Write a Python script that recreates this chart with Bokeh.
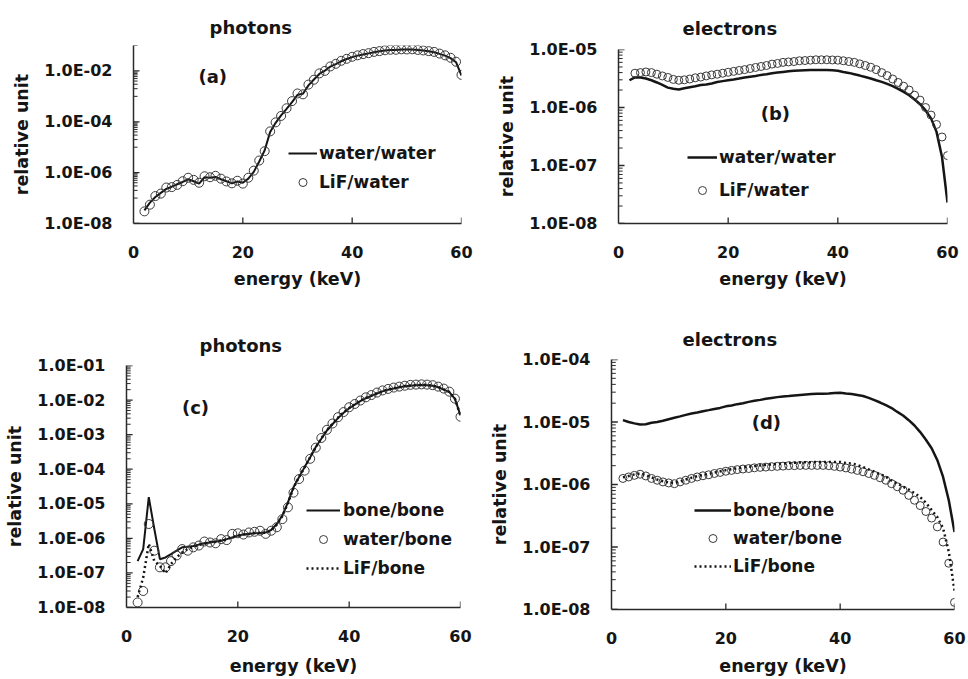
from bokeh.plotting import figure
from bokeh.models import Range1d, FixedTicker, Legend, LegendItem, Label, Title
from bokeh.layouts import column, row
from bokeh.embed import file_html
from bokeh.resources import INLINE

FONT = "DejaVu Sans"

# ---------------- data ----------------
energy = list(range(2, 61))          # keV, 2..60
energy_from3 = list(range(3, 61))    # keV, 3..60

x_ticks = [0, 20, 40, 60]

# panel (a) photons
a_water_water = [3.3e-8, 6.6e-8, 1.1e-7, 1.6e-7, 2.3e-7, 2.8e-7, 3.5e-7, 4.3e-7, 5.5e-7,
                 4.6e-7, 3.7e-7, 6.6e-7, 6.3e-7, 6.8e-7, 5.5e-7, 4.6e-7, 3.8e-7, 4.5e-7, 4.0e-7,
                 5.8e-7, 1.07e-6, 2.75e-6, 7.6e-6, 4.0e-5, 9.1e-5, 1.8e-4, 3.2e-4, 5.9e-4, 1.15e-3,
                 1.26e-3, 2.7e-3, 4.6e-3, 7.6e-3, 1.02e-2, 1.48e-2, 1.86e-2, 2.4e-2, 2.95e-2, 3.5e-2,
                 4.0e-2, 4.4e-2, 4.9e-2, 5.4e-2, 5.9e-2, 6.3e-2, 6.6e-2, 6.6e-2, 6.9e-2, 6.9e-2,
                 6.9e-2, 6.6e-2, 6.3e-2, 5.9e-2, 5.4e-2, 4.7e-2, 4.0e-2, 3.2e-2, 2.2e-2, 6.6e-3]
a_lif_water = [3.0e-8, 5.5e-8, 1.2e-7, 1.5e-7, 2.6e-7, 2.7e-7, 3.3e-7, 4.6e-7, 6.3e-7,
               5.2e-7, 4.0e-7, 7.2e-7, 6.6e-7, 7.5e-7, 5.8e-7, 4.5e-7, 3.8e-7, 4.8e-7, 3.7e-7,
               6.3e-7, 1.2e-6, 3.0e-6, 7.0e-6, 4.2e-5, 9.5e-5, 1.7e-4, 3.4e-4, 6.5e-4, 1.3e-3,
               1.2e-3, 2.9e-3, 4.5e-3, 8.0e-3, 1.0e-2, 1.5e-2, 1.9e-2, 2.5e-2, 3.0e-2, 3.6e-2,
               4.1e-2, 4.6e-2, 5.0e-2, 5.6e-2, 6.0e-2, 6.5e-2, 6.8e-2, 6.8e-2, 7.1e-2, 7.0e-2,
               7.1e-2, 6.7e-2, 6.4e-2, 6.0e-2, 5.6e-2, 4.8e-2, 4.1e-2, 3.3e-2, 2.3e-2, 7.0e-3]
a_y_ticks = [1e-8, 1e-6, 1e-4, 1e-2]
a_y_labels = ["1.0E-08", "1.0E-06", "1.0E-04", "1.0E-02"]

# panel (b) electrons
b_water_water = [2.95e-6, 3.3e-6, 3.3e-6, 3.16e-6, 2.95e-6, 2.7e-6, 2.45e-6, 2.2e-6, 2.1e-6,
                 2.04e-6, 2.15e-6, 2.24e-6, 2.33e-6, 2.45e-6, 2.5e-6, 2.6e-6, 2.75e-6, 2.85e-6, 2.95e-6,
                 3.05e-6, 3.16e-6, 3.3e-6, 3.4e-6, 3.5e-6, 3.65e-6, 3.75e-6, 3.9e-6, 4.0e-6, 4.1e-6,
                 4.2e-6, 4.3e-6, 4.35e-6, 4.4e-6, 4.45e-6, 4.45e-6, 4.45e-6, 4.45e-6, 4.4e-6, 4.3e-6,
                 4.1e-6, 3.95e-6, 3.75e-6, 3.55e-6, 3.35e-6, 3.16e-6, 2.95e-6, 2.77e-6, 2.55e-6, 2.33e-6,
                 2.1e-6, 1.86e-6, 1.63e-6, 1.37e-6, 1.14e-6, 8.9e-7, 6.5e-7, 3.8e-7, 1.4e-7, 2.3e-8]
b_lif_water = [3.9e-6, 4.0e-6, 4.1e-6, 4.0e-6, 3.75e-6, 3.5e-6, 3.3e-6, 3.05e-6,
               2.95e-6, 3.0e-6, 3.1e-6, 3.25e-6, 3.35e-6, 3.5e-6, 3.65e-6, 3.75e-6, 3.9e-6, 4.05e-6,
               4.2e-6, 4.35e-6, 4.5e-6, 4.7e-6, 4.9e-6, 5.1e-6, 5.3e-6, 5.6e-6, 5.75e-6, 6.0e-6,
               6.1e-6, 6.2e-6, 6.4e-6, 6.45e-6, 6.55e-6, 6.65e-6, 6.65e-6, 6.65e-6, 6.6e-6, 6.55e-6,
               6.4e-6, 6.2e-6, 6.0e-6, 5.65e-6, 5.3e-6, 4.95e-6, 4.5e-6, 4.0e-6, 3.55e-6, 3.1e-6,
               2.7e-6, 2.33e-6, 2.0e-6, 1.63e-6, 1.34e-6, 1.0e-6, 7.4e-7, 5.1e-7, 3.1e-7, 1.48e-7]
b_y_ticks = [1e-8, 1e-7, 1e-6, 1e-5]
b_y_labels = ["1.0E-08", "1.0E-07", "1.0E-06", "1.0E-05"]

# panel (c) photons
c_bone_bone = [2.2e-7, 4.9e-7, 1.55e-5, 1.86e-6, 2.5e-7, 2.8e-7, 3.5e-7, 4.4e-7, 5.5e-7,
               5.7e-7, 6.0e-7, 6.6e-7, 7.2e-7, 7.6e-7, 8.1e-7, 8.5e-7, 9.5e-7, 1.07e-6, 1.2e-6,
               1.29e-6, 1.35e-6, 1.4e-6, 1.42e-6, 1.48e-6, 1.74e-6, 2.6e-6, 4.6e-6, 1.1e-5, 3.0e-5,
               5.9e-5, 1.15e-4, 2.2e-4, 4.4e-4, 7.6e-4, 1.32e-3, 2.0e-3, 3.0e-3, 4.3e-3, 5.8e-3,
               7.4e-3, 9.3e-3, 1.13e-2, 1.32e-2, 1.55e-2, 1.78e-2, 2.0e-2, 2.15e-2, 2.35e-2, 2.5e-2,
               2.6e-2, 2.7e-2, 2.75e-2, 2.7e-2, 2.6e-2, 2.35e-2, 2.0e-2, 1.7e-2, 1.08e-2, 3.6e-3]
c_water_bone = [1.4e-8, 3.0e-8, 2.6e-6, 4.4e-7, 1.45e-7, 1.45e-7, 2.2e-7, 3.2e-7, 4.9e-7,
                4.4e-7, 5.5e-7, 6.2e-7, 8.1e-7, 7.6e-7, 7.2e-7, 9.5e-7, 8.9e-7, 1.35e-6, 1.4e-6,
                1.29e-6, 1.48e-6, 1.55e-6, 1.66e-6, 1.35e-6, 1.66e-6, 2.1e-6, 3.6e-6, 7.9e-6, 2.1e-5,
                5.2e-5, 9.1e-5, 2.0e-4, 4.2e-4, 8.0e-4, 1.38e-3, 2.1e-3, 3.2e-3, 4.5e-3, 6.2e-3,
                7.7e-3, 9.7e-3, 1.2e-2, 1.4e-2, 1.65e-2, 1.9e-2, 2.1e-2, 2.3e-2, 2.45e-2, 2.6e-2,
                2.75e-2, 2.8e-2, 2.85e-2, 2.8e-2, 2.7e-2, 2.45e-2, 2.15e-2, 1.75e-2, 1.1e-2, 3.3e-3]
c_lif_bone = [2.0e-8, 7.4e-8, 6.9e-7, 2.2e-7, 1.6e-7, 9.8e-8, 1.8e-7, 2.8e-7, 3.9e-7,
              4.9e-7, 5.7e-7, 6.4e-7, 7.0e-7, 7.8e-7, 7.9e-7, 8.8e-7, 9.2e-7, 1.1e-6, 1.18e-6,
              1.3e-6, 1.33e-6, 1.42e-6, 1.45e-6, 1.46e-6, 1.7e-6, 2.5e-6, 4.4e-6, 1.05e-5, 2.9e-5,
              6.0e-5, 1.12e-4, 2.25e-4, 4.3e-4, 7.8e-4, 1.35e-3, 2.05e-3, 3.1e-3, 4.4e-3, 5.9e-3,
              7.5e-3, 9.5e-3, 1.15e-2, 1.35e-2, 1.58e-2, 1.8e-2, 2.02e-2, 2.2e-2, 2.4e-2, 2.55e-2,
              2.65e-2, 2.72e-2, 2.78e-2, 2.72e-2, 2.62e-2, 2.38e-2, 2.05e-2, 1.72e-2, 1.1e-2, 3.5e-3]
c_y_ticks = [1e-8, 1e-7, 1e-6, 1e-5, 1e-4, 1e-3, 1e-2, 1e-1]
c_y_labels = ["1.0E-08", "1.0E-07", "1.0E-06", "1.0E-05", "1.0E-04", "1.0E-03", "1.0E-02", "1.0E-01"]

# panel (d) electrons
d_bone_bone = [1.07e-5, 1.0e-5, 9.5e-6, 9.1e-6, 9.2e-6, 9.7e-6, 1.0e-5, 1.05e-5, 1.11e-5,
               1.17e-5, 1.23e-5, 1.3e-5, 1.37e-5, 1.42e-5, 1.49e-5, 1.55e-5, 1.62e-5, 1.68e-5, 1.78e-5,
               1.84e-5, 1.93e-5, 2.0e-5, 2.1e-5, 2.18e-5, 2.26e-5, 2.35e-5, 2.43e-5, 2.5e-5, 2.56e-5,
               2.6e-5, 2.65e-5, 2.7e-5, 2.75e-5, 2.8e-5, 2.83e-5, 2.83e-5, 2.85e-5, 2.9e-5, 2.93e-5,
               2.85e-5, 2.8e-5, 2.7e-5, 2.6e-5, 2.43e-5, 2.24e-5, 2.05e-5, 1.86e-5, 1.67e-5, 1.45e-5,
               1.27e-5, 1.07e-5, 8.8e-6, 6.9e-6, 5.2e-6, 3.8e-6, 2.45e-6, 1.32e-6, 5.6e-7, 1.74e-7]
d_water_bone = [1.25e-6, 1.32e-6, 1.4e-6, 1.46e-6, 1.37e-6, 1.25e-6, 1.17e-6, 1.1e-6, 1.06e-6,
                1.03e-6, 1.1e-6, 1.17e-6, 1.25e-6, 1.32e-6, 1.38e-6, 1.43e-6, 1.5e-6, 1.56e-6, 1.63e-6,
                1.68e-6, 1.73e-6, 1.77e-6, 1.8e-6, 1.85e-6, 1.88e-6, 1.9e-6, 1.93e-6, 1.95e-6, 1.97e-6,
                2.0e-6, 2.0e-6, 2.02e-6, 2.02e-6, 2.02e-6, 2.02e-6, 2.02e-6, 2.0e-6, 1.95e-6, 1.9e-6,
                1.84e-6, 1.76e-6, 1.68e-6, 1.6e-6, 1.5e-6, 1.4e-6, 1.28e-6, 1.17e-6, 1.03e-6, 9.2e-7,
                8.1e-7, 6.7e-7, 5.6e-7, 4.6e-7, 3.7e-7, 2.9e-7, 2.1e-7, 1.2e-7, 5.5e-8, 1.3e-8]
d_lif_bone = [1.3e-6, 1.37e-6, 1.45e-6, 1.5e-6, 1.42e-6, 1.3e-6, 1.2e-6, 1.13e-6, 1.08e-6,
              1.06e-6, 1.12e-6, 1.2e-6, 1.28e-6, 1.36e-6, 1.42e-6, 1.48e-6, 1.55e-6, 1.62e-6, 1.7e-6,
              1.76e-6, 1.82e-6, 1.87e-6, 1.92e-6, 1.97e-6, 2.02e-6, 2.06e-6, 2.1e-6, 2.14e-6, 2.17e-6,
              2.2e-6, 2.23e-6, 2.25e-6, 2.27e-6, 2.28e-6, 2.3e-6, 2.3e-6, 2.3e-6, 2.3e-6, 2.3e-6,
              2.2e-6, 2.17e-6, 2.05e-6, 1.9e-6, 1.74e-6, 1.6e-6, 1.46e-6, 1.33e-6, 1.15e-6, 1.04e-6,
              9.2e-7, 8.3e-7, 7.3e-7, 6.3e-7, 5.1e-7, 3.9e-7, 3.0e-7, 2.0e-7, 8.4e-8, 2.0e-8]
d_y_ticks = [1e-8, 1e-7, 1e-6, 1e-5, 1e-4]
d_y_labels = ["1.0E-08", "1.0E-07", "1.0E-06", "1.0E-05", "1.0E-04"]

# ---------------- styling helpers ----------------
INK = "#151515"
AXC = "#2a2a2a"
MAJOR_LEN = 1.1     # inward tick length, in keV (about 6 px)
MINOR_LEN = 0.75    # about 4 px


def minor_list(exps, ks):
    return [k * 10.0 ** e for e in exps for k in ks]


def text_label(p, text, x, y, size):
    p.add_layout(Label(x=x, y=y, text=text, text_align="center", text_baseline="middle",
                       text_font=FONT, text_font_size=size, text_font_style="bold",
                       text_color=INK))


def make_panel(height, y_lo, y_hi, yticks, ylabels, yminor, borders,
               title_text, title_offset, title_standoff, xlab_standoff, xtick_factor):
    p = figure(width=484, height=height, x_range=Range1d(0, 60), y_range=Range1d(y_lo, y_hi),
               y_axis_type="log", output_backend="svg", toolbar_location=None,
               min_border_left=borders[0], min_border_right=borders[1],
               min_border_top=borders[2], min_border_bottom=borders[3])
    p.outline_line_color = None
    p.xgrid.visible = False
    p.ygrid.visible = False
    p.background_fill_color = "white"
    p.border_fill_color = "white"
    p.title = Title(text=title_text, align="left", offset=title_offset, text_font=FONT,
                    text_font_size="18px", text_font_style="bold", text_color=INK,
                    standoff=title_standoff)
    xa = p.xaxis[0]
    ya = p.yaxis[0]
    for ax in (xa, ya):
        ax.axis_line_color = AXC
        ax.axis_line_width = 1.5
        ax.major_tick_in = 0
        ax.major_tick_out = 0
        ax.minor_tick_in = 0
        ax.minor_tick_out = 0
        ax.major_tick_line_color = None
        ax.minor_tick_line_color = None
        ax.major_label_text_font = FONT
        ax.major_label_text_font_size = "16px"
        ax.major_label_text_font_style = "bold"
        ax.major_label_text_color = INK
        ax.axis_label_text_font = FONT
        ax.axis_label_text_font_size = "17.5px"
        ax.axis_label_text_font_style = "bold"
        ax.axis_label_text_color = INK
    xa.ticker = FixedTicker(ticks=x_ticks, minor_ticks=[])
    xa.major_label_standoff = 22
    xa.axis_label = "energy (keV)"
    xa.axis_label_standoff = xlab_standoff
    ya.ticker = FixedTicker(ticks=yticks, minor_ticks=yminor)
    ya.major_label_overrides = dict(zip(yticks, ylabels))
    ya.major_label_standoff = 21
    ya.axis_label = "relative unit"
    ya.axis_label_standoff = 9
    # tick marks drawn inward from the axes
    p.segment(x0=[0] * len(yticks), y0=yticks, x1=[MAJOR_LEN] * len(yticks), y1=yticks,
              line_color=AXC, line_width=1.3)
    p.segment(x0=[0] * len(yminor), y0=yminor, x1=[MINOR_LEN] * len(yminor), y1=yminor,
              line_color=AXC, line_width=1)
    xt = x_ticks[1:]
    p.segment(x0=xt, y0=[y_lo] * len(xt), x1=xt, y1=[y_lo * xtick_factor] * len(xt),
              line_color=AXC, line_width=1.3)
    return p


def add_legend(p, items, loc, glyph_w, spacing, standoff):
    lg = Legend(items=[LegendItem(label=t, renderers=[r]) for t, r in items],
                location=loc, orientation="vertical", padding=0, margin=0,
                spacing=spacing, glyph_width=glyph_w, glyph_height=20, label_height=20,
                label_standoff=standoff, border_line_alpha=0, background_fill_alpha=0,
                label_text_font=FONT, label_text_font_size="17px",
                label_text_font_style="bold", label_text_color=INK)
    p.add_layout(lg)


# ---------------- panel (a) ----------------
pa = make_panel(320, 1e-8, 1e-1, a_y_ticks, a_y_labels,
                minor_list([-7, -5, -3], range(1, 10)) + [1e-1],
                (133, 23, 45, 97), "photons", 76, 16, 8, 1.72)
ra1 = pa.line(energy, a_water_water, line_color=INK, line_width=2)
ra2 = pa.scatter(energy, a_lif_water, marker="circle", size=9, fill_color=None,
                 line_color="#3a3a3a", line_width=1)
add_legend(pa, [("water/water", ra1), ("LiF/water", ra2)], (155, 31), 29, 9, 2)
text_label(pa, "(a)", 14.5, 6.3e-3, "18px")

# ---------------- panel (c) ----------------
pc = make_panel(359, 1e-8, 1e-1, c_y_ticks, c_y_labels,
                minor_list([-8, -7, -6, -5, -4, -3, -2], range(2, 10)),
                (126, 24, 45, 72), "photons", 73, 20, 11, 1.49)
rc1 = pc.line(energy, c_bone_bone, line_color=INK, line_width=2)
rc2 = pc.scatter(energy, c_water_bone, marker="circle", size=9, fill_color=None,
                 line_color="#3a3a3a", line_width=1)
rc3 = pc.line(energy, c_lif_bone, line_color=INK, line_width=2.5, line_dash="2 3")
add_legend(pc, [("bone/bone", rc1), ("water/bone", rc2), ("LiF/bone", rc3)], (180, 29), 34, 9, 3)
text_label(pc, "(c)", 12.4, 6.2e-3, "18px")

# ---------------- panel (b) ----------------
pb = make_panel(315, 1e-8, 1e-5, b_y_ticks, b_y_labels,
                minor_list([-8, -7, -6], range(2, 10)),
                (134, 21, 49, 92), "electrons", 64, 22, 8, 1.27)
rb1 = pb.line(energy, b_water_water, line_color=INK, line_width=2.5)
rb2 = pb.scatter(energy_from3, b_lif_water, marker="circle", size=8, fill_color=None,
                 line_color="#3a3a3a", line_width=1)
add_legend(pb, [("water/water", rb1), ("LiF/water", rb2)], (69, 23), 30, 13, 2)
text_label(pb, "(b)", 28.6, 8e-7, "18px")

# ---------------- panel (d) ----------------
pd_ = make_panel(364, 1e-8, 1e-4, d_y_ticks, d_y_labels,
                 minor_list([-8, -7, -6, -5], range(2, 10)),
                 (127, 14, 44, 70), "electrons", 71, 19, 9, 1.25)
rd1 = pd_.line(energy, d_bone_bone, line_color=INK, line_width=2.5)
rd2 = pd_.scatter(energy, d_water_bone, marker="circle", size=8, fill_color=None,
                  line_color="#3a3a3a", line_width=1)
rd3 = pd_.line(energy, d_lif_bone, line_color=INK, line_width=2.5, line_dash="2 3")
add_legend(pd_, [("bone/bone", rd1), ("water/bone", rd2), ("LiF/bone", rd3)], (83, 33), 37, 8, 2)
text_label(pd_, "(d)", 27.1, 9.8e-6, "18px")

# each figure wrapped on its own so that the frames are not aligned with each other
layout = row(column(column(pa), column(pc)), column(column(pb), column(pd_)))
open("out.html", "w").write(file_html(layout, INLINE))
